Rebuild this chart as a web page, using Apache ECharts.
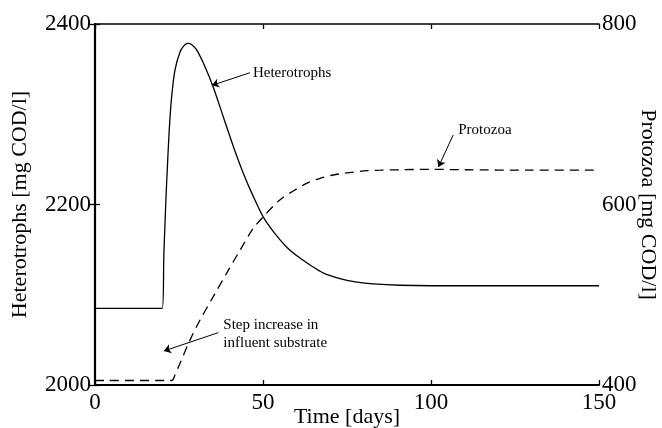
<!DOCTYPE html>
<html>
<head>
<meta charset="utf-8">
<script src="https://cdn.jsdelivr.net/npm/echarts@6/dist/echarts.min.js"></script>
<style>html,body{margin:0;padding:0;background:#fff}#c{width:662px;height:428px}</style>
</head>
<body>
<div id="c"></div>
<script>
// ---- data ----
var hetT = [0, 20, 20.5, 21.1, 21.5, 22.1, 22.8, 23.8, 25.3, 26.5, 27.6, 28.8, 30.3, 32.7, 35.2, 38.2, 41.2, 44.1, 47.1, 50.1, 53.5, 57.0, 60.5, 64.0, 68, 72.9, 78, 82.8, 90.8, 100, 120, 150];
var hetV = [2085, 2085, 2145, 2205, 2238, 2283, 2319, 2349, 2369, 2376, 2378.5, 2377, 2371, 2353, 2330, 2297, 2264, 2235, 2209, 2186, 2168, 2153, 2142, 2133, 2124, 2118, 2114, 2112, 2110.5, 2110, 2110, 2110];
var proT = [0, 22.8, 23.8, 25.3, 28.3, 31.25, 35.2, 39.2, 43.2, 47, 50.1, 55, 59, 63, 67, 70.9, 75, 80.9, 85, 90.8, 100, 110, 130, 150];
var proV = [405, 405, 411, 424, 450, 472, 498, 524, 549.6, 573, 586.5, 605, 615, 623.5, 629, 632.7, 635, 637.5, 638, 638.5, 639, 638.5, 638, 638];
var xTicks = [0, 50, 100, 150];
var leftTicks = [2000, 2200, 2400];
var rightTicks = [400, 600, 800];
// annotations: [text, x, y] and arrows [x1, y1, x2, y2] in data units
var hetLabel = ['Heterotrophs', 47.0, 2345.7];
var hetArrow = [46.1, 2346, 34.8, 2332];
var stepLabel = ['Step increase in\ninfluent substrate', 38.2, 2056.6];
var stepArrow = [36.7, 2058, 20.5, 2037.7];
var proLabel = ['Protozoa', 108.1, 682.5];
var proArrow = [106.6, 677, 102.2, 641.5];

var FONT = '"Liberation Serif", "Times New Roman", serif';
function pairs(a, b) { return a.map(function (v, i) { return [v, b[i]]; }); }
function arrow(a) { return [{ coord: [a[0], a[1]] }, { coord: [a[2], a[3]] }]; }
function label(l) {
  return { coord: [l[1], l[2]], symbol: 'circle', symbolSize: 0,
    label: { show: true, position: 'right', distance: 0, formatter: l[0], color: '#000',
      fontFamily: FONT, fontSize: 15, lineHeight: 18, align: 'left' } };
}
function plain(v) { return String(v); }
var axisLine = { show: true, lineStyle: { color: '#000', width: 1.8 } };
var tick = { show: true, inside: true, length: 5, lineStyle: { color: '#000', width: 1.3 } };
var arrowLine = { symbol: ['none', 'arrow'], symbolSize: 7, silent: true, animation: false,
  label: { show: false }, lineStyle: { color: '#000', width: 1, type: 'solid' }, emphasis: { disabled: true } };

var chart = echarts.init(document.getElementById('c'));
chart.setOption({
  animation: false,
  backgroundColor: '#fff',
  grid: { left: 95, right: 63, top: 24, bottom: 43, containLabel: false, outerBoundsMode: 'none' },
  xAxis: [{
    type: 'value', min: xTicks[0], max: xTicks[xTicks.length - 1], interval: 50,
    name: 'Time [days]', nameLocation: 'middle', nameGap: 21, nameMoveOverlap: false,
    nameTextStyle: { fontFamily: FONT, fontSize: 22, color: '#000' },
    axisLine: axisLine, axisTick: tick, splitLine: { show: false },
    axisLabel: { fontFamily: FONT, fontSize: 23, color: '#000', margin: 6, formatter: plain }
  }, {
    type: 'value', position: 'top', min: 0, max: 150, interval: 50,
    axisLine: { show: true, lineStyle: { color: '#000', width: 1.5 } }, axisTick: tick,
    axisLabel: { show: false }, splitLine: { show: false }
  }],
  yAxis: [{
    type: 'value', min: leftTicks[0], max: leftTicks[2], interval: 200, position: 'left',
    name: 'Heterotrophs [mg COD/l]', nameLocation: 'middle', nameRotate: 90, nameGap: 64, nameMoveOverlap: false,
    nameTextStyle: { fontFamily: FONT, fontSize: 22, color: '#000' },
    axisLine: axisLine, axisTick: tick, splitLine: { show: false },
    axisLabel: { fontFamily: FONT, fontSize: 23, color: '#000', margin: 4, formatter: plain }
  }, {
    type: 'value', min: rightTicks[0], max: rightTicks[2], interval: 200, position: 'right',
    name: 'Protozoa [mg COD/l]', nameLocation: 'middle', nameRotate: -90, nameGap: 38, nameMoveOverlap: false,
    nameTextStyle: { fontFamily: FONT, fontSize: 22, color: '#000' },
    axisLine: { show: true, lineStyle: { color: '#000', width: 2.2 } }, axisTick: tick, splitLine: { show: false },
    axisLabel: { fontFamily: FONT, fontSize: 23, color: '#000', margin: 3, formatter: plain }
  }],
  series: [{
    name: 'Heterotrophs', type: 'line', xAxisIndex: 0, yAxisIndex: 0,
    data: pairs(hetT, hetV), showSymbol: false, smooth: 0.3,
    lineStyle: { color: '#000', width: 1.3 },
    markLine: Object.assign({ data: [arrow(hetArrow), arrow(stepArrow)] }, arrowLine),
    markPoint: { silent: true, animation: false, data: [label(hetLabel), label(stepLabel)] }
  }, {
    name: 'Protozoa', type: 'line', xAxisIndex: 0, yAxisIndex: 1,
    data: pairs(proT, proV), showSymbol: false, smooth: 0.3,
    lineStyle: { color: '#000', width: 1.3, type: [9, 6] },
    markLine: Object.assign({ data: [arrow(proArrow)] }, arrowLine),
    markPoint: { silent: true, animation: false, data: [label(proLabel)] }
  }]
});
</script>
</body>
</html>
